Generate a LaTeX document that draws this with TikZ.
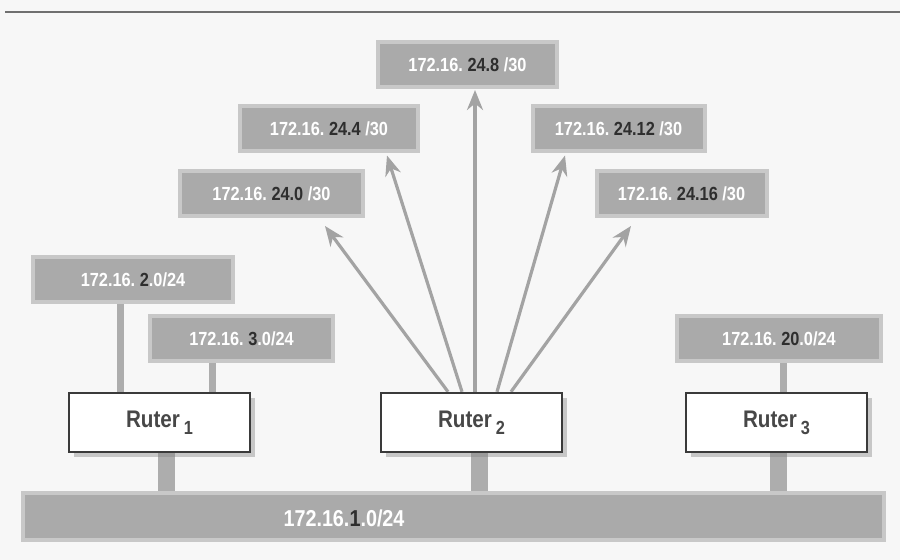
\documentclass[tikz,border=0pt]{standalone}
\usepackage{fontspec}
\setsansfont{Liberation Sans}[FakeStretch=0.86]
\usepackage{tikz}
\usetikzlibrary{arrows.meta, positioning, shadows, backgrounds}
\definecolor{pagebg}{HTML}{F7F7F7}
\definecolor{rulegray}{HTML}{707070}
\definecolor{netgray}{HTML}{AAAAAA}
\definecolor{netdark}{HTML}{2E2E2E}
\definecolor{wiregray}{HTML}{ADADAD}
\definecolor{arrowgray}{HTML}{A3A3A3}
\definecolor{ruterline}{HTML}{3A3A3A}
\definecolor{rutertext}{HTML}{474747}
\frenchspacing
\newcommand{\ipnet}[3]{\textcolor{white}{#1}\textcolor{netdark}{#2}\textcolor{white}{#3}}
\newcommand{\rtr}[1]{Ruter\,\raisebox{-0.55ex}{\fontsize{9.5}{9.5}\selectfont #1}}

\begin{document}
\begin{tikzpicture}[x=0.5pt, y=-0.5pt,
  net/.style={rectangle, fill=netgray, draw=netgray!65!white, line width=2pt,
              minimum height=22.5pt, inner sep=0pt,
              font=\sffamily\bfseries\fontsize{9.5}{11}\selectfont},
  ruter/.style={rectangle, fill=white, draw=ruterline, line width=1.2pt,
                minimum width=90.5pt, minimum height=29.5pt, text=rutertext,
                font=\sffamily\bfseries\fontsize{12}{14}\selectfont,
                drop shadow={shadow xshift=2.5pt, shadow yshift=-2.5pt, opacity=0.4}},
  lanwire/.style={draw=wiregray, line width=3.5pt},
  busdrop/.style={draw=wiregray, line width=8.5pt},
  uplink/.style={draw=arrowgray, line width=1.6pt, -{Stealth[length=10pt, width=8pt]}},
]
  \useasboundingbox (0,0) rectangle (900,560);

  % /30 point-to-point nets
  \node[net, minimum width=89.5pt] (n248)  at (467.5,64.5)  {\ipnet{172.16.~}{24.8}{~/30}};
  \node[net, minimum width=89pt]   (n244)  at (329,129)     {\ipnet{172.16.~}{24.4}{~/30}};
  \node[net, minimum width=86pt]   (n2412) at (618.5,129)   {\ipnet{172.16.~}{24.12}{~/30}};
  \node[net, minimum width=91.5pt] (n240)  at (271.5,193.5) {\ipnet{172.16.~}{24.0}{~/30}};
  \node[net, minimum width=85pt]   (n2416) at (681.5,193.5) {\ipnet{172.16.~}{24.16}{~/30}};

  % /24 LANs
  \node[net, minimum width=100pt]  (n2)  at (133,279.5)   {\ipnet{172.16.~}{2}{.0/24}};
  \node[net, minimum width=91.5pt] (n3)  at (241.5,338.5) {\ipnet{172.16.~}{3}{.0/24}};
  \node[net, minimum width=102pt]  (n20) at (779,339)     {\ipnet{172.16.~}{20}{.0/24}};

  % routers
  \node[ruter] (r1) at (159.5,422.5) {\rtr{1}};
  \node[ruter] (r2) at (471.5,422.5) {\rtr{2}};
  \node[ruter] (r3) at (776.5,422.5) {\rtr{3}};

  % backbone
  \node[net, minimum width=430.5pt, minimum height=23.5pt] (bus) at (453.5,516.5) {};
  \node[inner sep=0pt, font=\sffamily\bfseries\fontsize{11.5}{13}\selectfont]
       (buslbl) at (344,518) {\ipnet{172.16.}{1}{.0/24}};

  \begin{pgfonlayer}{background}
    \fill[pagebg] (0,0) rectangle (900,560);
    \draw[rulegray, line width=1pt] (5,12) -- (900,12);

    \draw[lanwire] ([xshift=-6.5pt]n2.south)  -- ([xshift=-6.5pt]n2.south |- r1.north);
    \draw[lanwire] ([xshift=-14.75pt]n3.south) -- ([xshift=-14.75pt]n3.south |- r1.north);
    \draw[lanwire] ([xshift=2pt]n20.south)    -- ([xshift=2pt]n20.south |- r3.north);

    \draw[busdrop] ([xshift=3.25pt]r1.south) -- ([xshift=3.25pt]r1.south |- bus.north);
    \draw[busdrop] ([xshift=3.75pt]r2.south) -- ([xshift=3.75pt]r2.south |- bus.north);
    \draw[busdrop] ([xshift=0.75pt]r3.south) -- ([xshift=0.75pt]r3.south |- bus.north);

    \draw[uplink] ([xshift=-11.75pt]r2.north) -- ([xshift=26.75pt, yshift=-4pt]n240.south);
    \draw[uplink] ([xshift=-4.75pt]r2.north)  -- ([xshift=29pt, yshift=-1pt]n244.south);
    \draw[uplink] ([xshift=1.75pt]r2.north)   -- ([xshift=3.75pt, yshift=-0.5pt]n248.south);
    \draw[uplink] ([xshift=12.75pt]r2.north)  -- ([xshift=-26.75pt, yshift=-1pt]n2412.south);
    \draw[uplink] ([xshift=19.75pt]r2.north)  -- ([xshift=-25.25pt, yshift=-4pt]n2416.south);
  \end{pgfonlayer}
\end{tikzpicture}
\end{document}
